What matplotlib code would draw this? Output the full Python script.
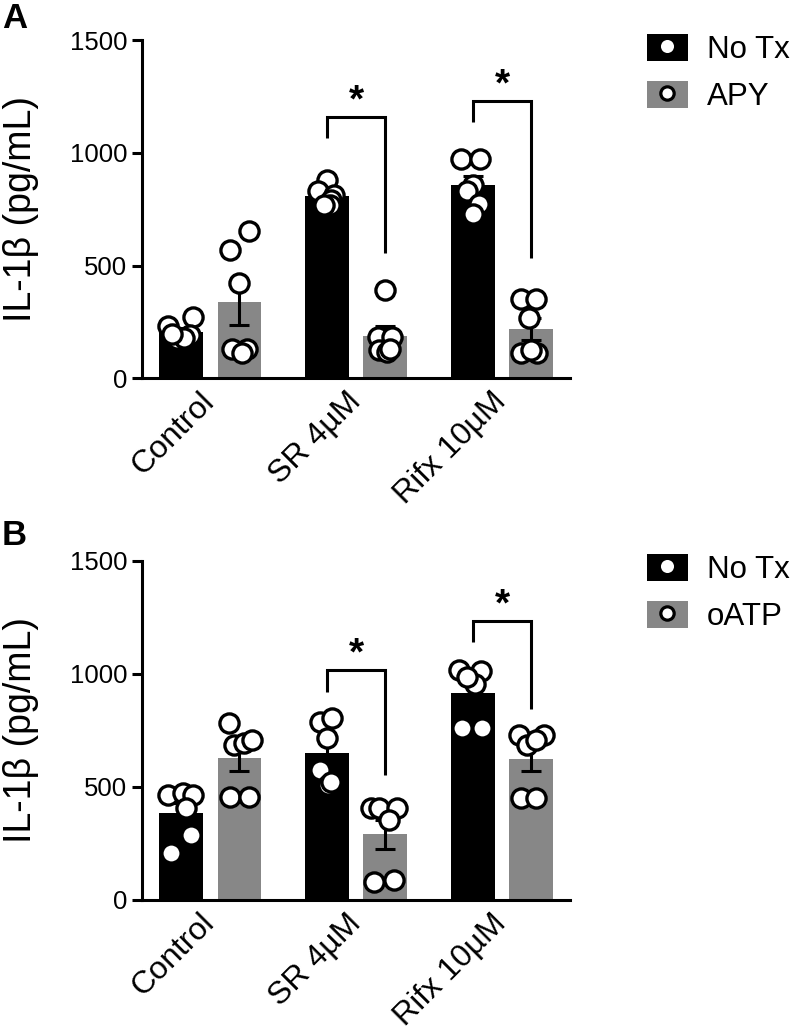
import numpy as np
import matplotlib
matplotlib.use("Agg")
import matplotlib.pyplot as plt
from matplotlib.patches import Patch
from matplotlib.lines import Line2D
from matplotlib.legend_handler import HandlerTuple
from matplotlib.transforms import ScaledTranslation

plt.rcParams['font.family'] = ['Liberation Sans', 'DejaVu Sans']

# ---------------- data ----------------
categories = ["Control", "SR 4\u00b5M", "Rifx 10\u00b5M"]
y_ticks = [0, 500, 1000, 1500]

# Panel A: IL-1beta (pg/mL), individual replicates
a_notx = [[230, 270, 175, 190, 180, 195],
          [880, 830, 815, 790, 770, 770],
          [973, 973, 860, 832, 772, 728]]
a_apy = [[654, 568, 423, 132, 132, 112],
         [390, 185, 185, 125, 115, 130],
         [351, 351, 267, 112, 112, 125]]

# Panel B
b_notx = [[464, 472, 464, 405, 287, 206],
          [788, 803, 715, 575, 508, 520],
          [1015, 1010, 955, 985, 760, 760]]
b_oatp = [[781, 685, 693, 707, 454, 454],
          [405, 405, 405, 354, 81, 88],
          [729, 729, 685, 705, 450, 450]]

series_a = ["No Tx", "APY"]
series_b = ["No Tx", "oATP"]

# ---------------- layout (jitter offsets, annotation levels) ----------------
a_notx_dx = [[-0.09, 0.08, -0.03, 0.06, 0.02, -0.06],
             [0.0, -0.06, 0.05, 0.03, 0.02, -0.02],
             [-0.08, 0.05, 0.0, -0.04, 0.04, 0.0]]
a_apy_dx = [[0.064, -0.066, 0.0, -0.05, 0.05, 0.02],
            [0.0, -0.05, 0.045, -0.045, 0.01, 0.03],
            [-0.07, 0.03, -0.015, -0.07, 0.04, 0.0]]
b_notx_dx = [[-0.087, 0.016, 0.084, 0.034, 0.066, -0.07],
             [-0.046, 0.034, 0.0, -0.046, 0.01, 0.03],
             [-0.096, 0.053, 0.018, -0.04, -0.073, 0.064]]
b_oatp_dx = [[-0.073, -0.04, 0.03, 0.087, -0.062, 0.064],
             [-0.1, -0.046, 0.08, 0.023, -0.08, 0.057],
             [-0.083, 0.088, -0.026, 0.03, -0.072, 0.03]]

# bracket annotations: (group index, top, left leg end, right leg end)
brackets_a = [(1, 1161, 1067, 556), (2, 1231, 1138, 534)]
brackets_b = [(1, 1017, 921, 553), (2, 1233, 1139, 844)]

BLACK = "#000000"
GRAY = "#878787"
OFF = 0.2
BW = 0.3
LW = 2.2

W, H = 793, 1031
fig = plt.figure(figsize=(W / 100, H / 100), dpi=100)


def fx(px):
    return px / W


def fy(py):
    return 1 - py / H


def panel(rect, notx, trt, notx_dx, trt_dx, brackets, names, legend_top, letter, letter_y):
    ax = fig.add_axes(rect)
    x = np.arange(len(categories))
    for vals, dxs, off, col in ((notx, notx_dx, -OFF, BLACK), (trt, trt_dx, OFF, GRAY)):
        means = np.array([np.mean(v) for v in vals])
        sems = np.array([np.std(v, ddof=1) / np.sqrt(len(v)) for v in vals])
        ax.bar(x + off, means, width=BW, color=col, zorder=1)
        ax.errorbar(x + off, means, yerr=sems, fmt='none', ecolor='black',
                    elinewidth=LW, capsize=7, capthick=LW, zorder=2)
        for i, (v, d) in enumerate(zip(vals, dxs)):
            ax.plot(x[i] + off + np.array(d), v, ls='none', marker='o', ms=13.8,
                    mfc='white', mec='black', mew=2.4, zorder=3, clip_on=False)
    for g, top, l, r in brackets:
        x1, x2 = g - OFF, g + OFF
        ax.plot([x1, x1, x2, x2], [l, top, top, r], color='black', lw=LW,
                solid_capstyle='butt', solid_joinstyle='miter', clip_on=False)
        ax.annotate('*', xy=(g, top), xytext=(0, 11), textcoords='offset points',
                    ha='center', va='center', fontsize=28, fontweight='bold')
    ax.set_xlim(-0.466, 2.466)
    ax.set_ylim(0, 1500)
    ax.set_yticks(y_ticks)
    ax.set_yticklabels([str(t) for t in y_ticks], fontsize=18.5)
    ax.set_xticks(x)
    ax.set_xticklabels(categories, fontsize=23, rotation=45, ha='right',
                       va='center', rotation_mode='anchor')
    shift = ScaledTranslation(-0.03, 0, fig.dpi_scale_trans)
    for lab in ax.get_xticklabels():
        lab.set_transform(lab.get_transform() + shift)
    ax.tick_params(axis='y', length=7, width=LW, pad=4, direction='out')
    ax.tick_params(axis='x', length=0, pad=13.5)
    for s in ('top', 'right'):
        ax.spines[s].set_visible(False)
    for s in ('left', 'bottom'):
        ax.spines[s].set_linewidth(LW)
    ax.set_ylabel("IL-1\u03b2 (pg/mL)", fontsize=27)
    ax.yaxis.set_label_coords((21 - 142.3) / (570 - 142.3), 0.5)
    ax.yaxis.label.set_va('center')

    handles = [(Patch(facecolor=BLACK, edgecolor='none'),
                Line2D([], [], ls='none', marker='o', ms=9.4, mfc='white', mec='white', mew=0)),
               (Patch(facecolor=GRAY, edgecolor='none'),
                Line2D([], [], ls='none', marker='o', ms=9.6, mfc='white', mec='black', mew=2.3))]
    fig.legend(handles, names, handler_map={tuple: HandlerTuple(ndivide=1, pad=0)},
               loc='upper left', bbox_to_anchor=(fx(646.7), fy(legend_top)),
               frameon=False, fontsize=22.5, handlelength=1.33, handleheight=0.96,
               handletextpad=0.59, labelspacing=0.5, borderpad=0, borderaxespad=0)
    fig.text(fx(2), fy(letter_y), letter, fontsize=25, fontweight='bold',
             ha='left', va='top')
    return ax


panel([0.1795, 0.6331, 0.5393, 0.3278], a_notx, a_apy, a_notx_dx, a_apy_dx,
      brackets_a, series_a, 34, "A", 2)
panel([0.1795, 0.1271, 0.5393, 0.3291], b_notx, b_oatp, b_notx_dx, b_oatp_dx,
      brackets_b, series_b, 554, "B", 519)

fig.savefig("out.png", dpi=100)
